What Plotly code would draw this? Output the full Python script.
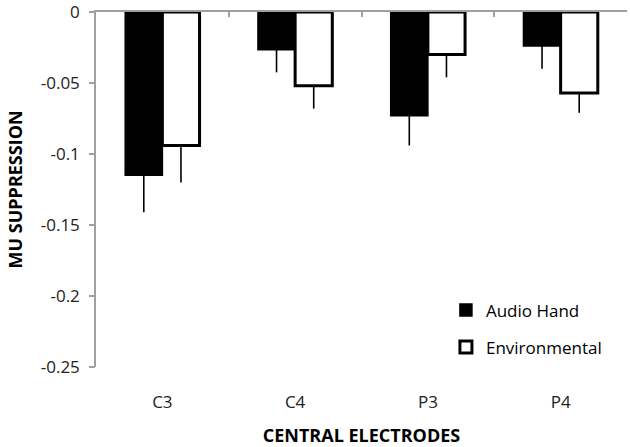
import plotly.graph_objects as go

categories = ["C3", "C4", "P3", "P4"]
audio_hand = [-0.115, -0.0265, -0.073, -0.024]
audio_hand_err = [0.026, 0.016, 0.021, 0.016]
environmental = [-0.094, -0.052, -0.030, -0.057]
environmental_err = [0.026, 0.016, 0.016, 0.014]
y_tickvals = [0, -0.05, -0.1, -0.15, -0.2, -0.25]
y_ticktext = ["0", "-0.05", "-0.1", "-0.15", "-0.2", "-0.25"]

FONT = "Open Sans"

fig = go.Figure()
fig.add_trace(go.Bar(
    x=categories, y=audio_hand, name="Audio Hand",
    marker=dict(color="black", line=dict(color="black", width=1.5)),
    error_y=dict(type="data", symmetric=False, array=[0]*4, arrayminus=audio_hand_err,
                 color="black", thickness=1.6, width=0),
    legendgroup="a",
))
fig.add_trace(go.Bar(
    x=categories, y=environmental, name="Environmental",
    marker=dict(color="white", line=dict(color="black", width=3)),
    error_y=dict(type="data", symmetric=False, array=[0]*4, arrayminus=environmental_err,
                 color="black", thickness=1.6, width=0),
    legendgroup="b",
))
# invisible helper traces for the top axis line (boundary ticks) and the short y tick marks
fig.add_trace(go.Scatter(x=[-0.5, 3.5], y=[0, 0], xaxis="x2", mode="lines",
                         line=dict(color="rgba(0,0,0,0)"), showlegend=False, hoverinfo="skip"))
fig.add_trace(go.Scatter(x=[categories[0]], y=[0], yaxis="y2", mode="lines",
                         line=dict(color="rgba(0,0,0,0)"), showlegend=False, hoverinfo="skip"))

fig.update_layout(
    width=630, height=447,
    margin=dict(l=96, r=3, t=12, b=80, autoexpand=False),
    paper_bgcolor="white", plot_bgcolor="white",
    barmode="group", bargap=0.44, bargroupgap=0,
    font=dict(family=FONT, color="#222222", size=17),
    showlegend=True,
    legend=dict(x=0.659, y=0.21, xanchor="left", yanchor="top",
                bgcolor="rgba(0,0,0,0)", font=dict(size=17, color="black"),
                tracegroupgap=12, traceorder="grouped",
                itemwidth=30),
    xaxis=dict(
        type="category", showline=False, showgrid=False, zeroline=False,
        ticks="outside", ticklen=20, tickcolor="rgba(0,0,0,0)",
        tickfont=dict(size=17, color="#222222"), automargin=False,
        title=dict(text="<b>CENTRAL ELECTRODES</b>", font=dict(size=18, color="black"), standoff=17),
    ),
    xaxis2=dict(
        overlaying="x", side="top", range=[-0.5, 3.5], automargin=False,
        showline=True, linecolor="#a0a0a0", linewidth=1.5,
        tickmode="array", tickvals=[0.5, 1.5, 2.5, 3.5],
        ticks="inside", ticklen=5, tickcolor="#a0a0a0", tickwidth=1.5,
        showticklabels=False, showgrid=False, zeroline=False,
    ),
    yaxis=dict(
        range=[-0.25, 0], showgrid=False, zeroline=False, automargin=False,
        showline=True, linecolor="#a0a0a0", linewidth=1.5,
        tickmode="array", tickvals=y_tickvals, ticktext=y_ticktext,
        ticks="outside", ticklen=11, tickcolor="rgba(0,0,0,0)",
        ticklabeloverflow="allow",
        tickfont=dict(size=17, color="#222222"),
    ),
    yaxis2=dict(
        overlaying="y", side="left", range=[-0.25, 0], automargin=False,
        showline=False, showgrid=False, zeroline=False,
        tickmode="array", tickvals=y_tickvals,
        ticks="outside", ticklen=6, tickcolor="#a0a0a0", tickwidth=1.5,
        showticklabels=False,
    ),
    annotations=[dict(
        text="<b>MU SUPPRESSION</b>", textangle=-90, showarrow=False,
        xref="paper", yref="paper", x=0, y=0.5, xanchor="center", yanchor="middle",
        xshift=-82, font=dict(size=18, color="black"),
    )],
)

fig.write_html("out.html", post_script="document.body.style.margin='0';",
               config={"displayModeBar": False})
